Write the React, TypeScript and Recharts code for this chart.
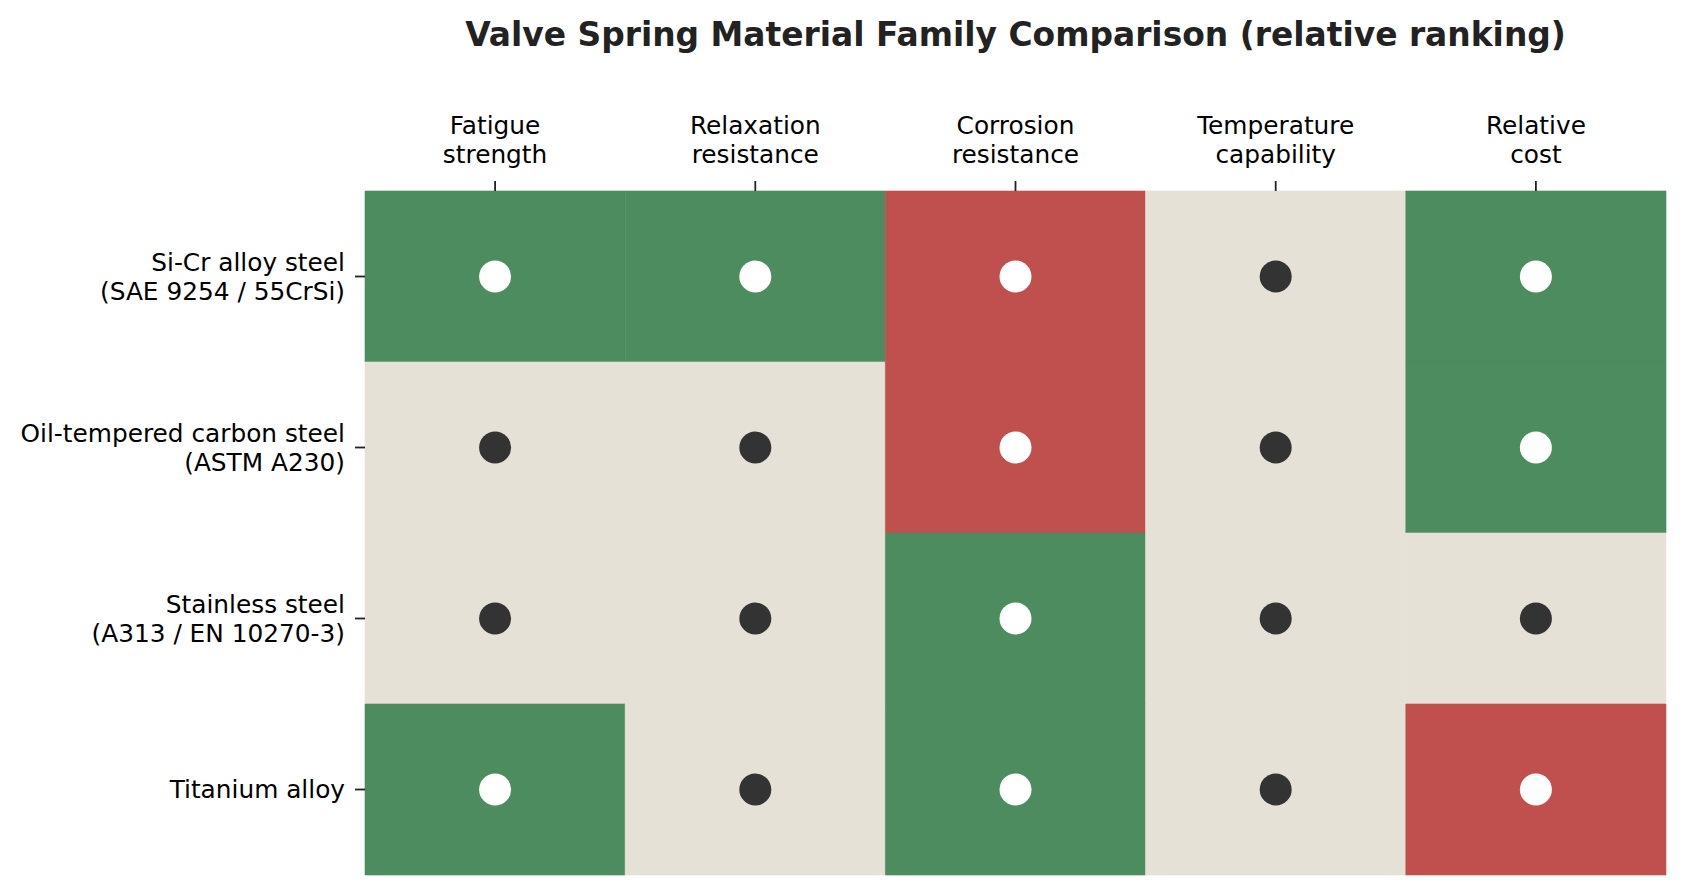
import { ScatterChart, Scatter, XAxis, YAxis, ReferenceArea } from "recharts";

const materials = [
  "Si-Cr alloy steel\n(SAE 9254 / 55CrSi)",
  "Oil-tempered carbon steel\n(ASTM A230)",
  "Stainless steel\n(A313 / EN 10270-3)",
  "Titanium alloy",
];

const properties = [
  "Fatigue\nstrength",
  "Relaxation\nresistance",
  "Corrosion\nresistance",
  "Temperature\ncapability",
  "Relative\ncost",
];

// 1 = favourable, 0 = neutral, -1 = unfavourable
const siCrRanks = [1, 1, -1, 0, 1];
const oilTemperedRanks = [0, 0, -1, 0, 1];
const stainlessRanks = [0, 0, 1, 0, 0];
const titaniumRanks = [1, 0, 1, 0, -1];

const ranks = [siCrRanks, oilTemperedRanks, stainlessRanks, titaniumRanks];

const CELL_COLORS: Record<number, string> = {
  1: "#4d8c5e",
  0: "#e5e1d7",
  [-1]: "#c0504d",
};

const FONT = "DejaVu Sans, Verdana, sans-serif";

const cells = ranks.flatMap((row, r) =>
  row.map((rank, c) => ({
    x: c,
    y: r,
    rank,
    dot: rank === 0 ? "#333333" : "#ffffff",
  }))
);

function TopTick({ x, y, payload }: any) {
  const lines = properties[payload.value].split("\n");
  return (
    <g>
      {lines.map((line, i) => (
        <text
          key={i}
          x={x}
          y={y - 18 - (lines.length - 1 - i) * 29}
          textAnchor="middle"
          fontFamily={FONT}
          fontSize={24.8}
          fill="#000"
        >
          {line}
        </text>
      ))}
    </g>
  );
}

function LeftTick({ x, y, payload }: any) {
  const lines = materials[payload.value].split("\n");
  const start = y - ((lines.length - 1) * 29) / 2;
  return (
    <g>
      {lines.map((line, i) => (
        <text
          key={i}
          x={x}
          y={start + i * 29}
          dy="0.35em"
          textAnchor="end"
          fontFamily={FONT}
          fontSize={24.8}
          fill="#000"
        >
          {line}
        </text>
      ))}
    </g>
  );
}

export default function App() {
  return (
    <div style={{ position: "relative", width: 1670, height: 880, background: "#fff" }}>
      <div
        style={{
          position: "absolute",
          left: 357,
          width: 1301,
          top: 7,
          height: 40,
          lineHeight: "40px",
          textAlign: "center",
          fontFamily: FONT,
          fontWeight: "bold",
          fontSize: 32.9,
          color: "#222",
        }}
      >
        Valve Spring Material Family Comparison (relative ranking)
      </div>
      <ScatterChart
        width={1670}
        height={880}
        margin={{ top: 83, right: 12, bottom: 13, left: 57 }}
      >
        <XAxis
          type="number"
          dataKey="x"
          orientation="top"
          domain={[-0.5, 4.5]}
          ticks={[0, 1, 2, 3, 4]}
          interval={0}
          height={100}
          axisLine={false}
          tickSize={10}
          tickMargin={0}
          tickLine={{ stroke: "#222", strokeWidth: 1.8 }}
          tick={<TopTick />}
        />
        <YAxis
          type="number"
          dataKey="y"
          domain={[-0.5, 3.5]}
          reversed
          ticks={[0, 1, 2, 3]}
          interval={0}
          width={300}
          axisLine={false}
          tickSize={10}
          tickMargin={10}
          tickLine={{ stroke: "#222", strokeWidth: 1.8 }}
          tick={<LeftTick />}
        />
        {cells.map((cell) => (
          <ReferenceArea
            key={`${cell.x}-${cell.y}`}
            x1={cell.x - 0.5}
            x2={cell.x + 0.5}
            y1={cell.y - 0.5}
            y2={cell.y + 0.5}
            fill={CELL_COLORS[cell.rank]}
            fillOpacity={1}
            stroke={CELL_COLORS[cell.rank]}
            strokeWidth={0.6}
            ifOverflow="visible"
          />
        ))}
        <Scatter
          data={cells}
          isAnimationActive={false}
          shape={(props: any) => (
            <circle cx={props.cx} cy={props.cy} r={16} fill={props.payload.dot} />
          )}
        />
      </ScatterChart>
    </div>
  );
}
